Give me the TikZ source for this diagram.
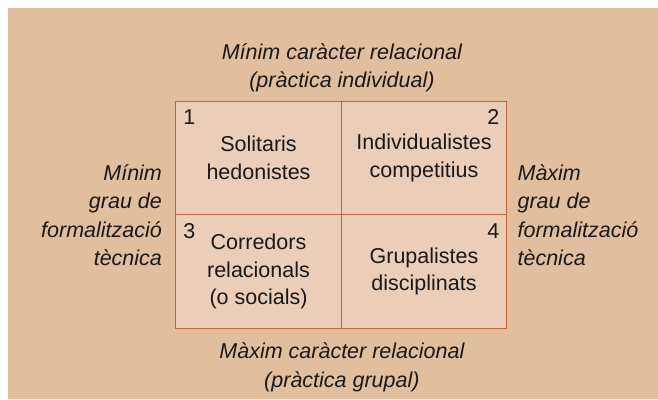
\documentclass[tikz,border=0pt]{standalone}
\usepackage{fontspec}
\setmainfont{Liberation Sans}
\usepackage{tikz}
\usepackage{xcolor}
\usetikzlibrary{positioning}

\definecolor{fons}{HTML}{E0BE9E}
\definecolor{cel}{HTML}{EBCDB8}
\definecolor{vora}{HTML}{C0673A}

\tikzset{
  cella/.style={draw=vora, line width=1.3pt, fill=cel, minimum width=165.5pt,
    minimum height=113.5pt, inner sep=0pt, align=center, text=black!90,
    font=\fontsize{21.5}{27.5}\selectfont},
  eix/.style={font=\fontsize{21.5}{28.5}\selectfont\itshape, text=black!90, inner sep=0pt},
  num/.style={font=\fontsize{21.5}{22}\selectfont, text=black!90, inner sep=0pt}
}

\begin{document}
\begin{tikzpicture}[x=1pt,y=-1pt]
  \useasboundingbox (0,0) rectangle (658,399);
  \fill[white] (0,0) rectangle (658,399);
  \fill[fons] (8,8) rectangle (658,399); % fons

  % quadrants
  \node[cella] (q1) at (258.5,158) {Solitaris\\hedonistes};
  \node[cella] (q2) at (424,158) {Individualistes\\competitius};
  \node[cella] (q3) at (258.5,271.5) {Corredors\\relacionals\\(o socials)};
  \node[cella] (q4) at (424,271.5) {Grupalistes\\disciplinats};

  \node[num, below right=9pt and 8pt of q1.north west] (n1) {1};
  \node[num, below left=9pt and 8pt of q2.north east] (n2) {2};
  \node[num, below right=9pt and 8pt of q3.north west] (n3) {3};
  \node[num, below left=9pt and 8pt of q4.north east] (n4) {4};

  % eixos
  \node[eix, align=center, above=8pt of q1.north east] (dalt)
    {Mínim caràcter relacional\\(pràctica individual)};
  \node[eix, align=center, below=14pt of q3.south east] (baix)
    {Màxim caràcter relacional\\(pràctica grupal)};
  \node[eix, align=right, left=13pt of q1.south west] (esq)
    {Mínim\\grau de\\formalització\\tècnica};
  \node[eix, align=left, right=10pt of q2.south east] (dreta)
    {Màxim\\grau de\\formalització\\tècnica};
\end{tikzpicture}
\end{document}
